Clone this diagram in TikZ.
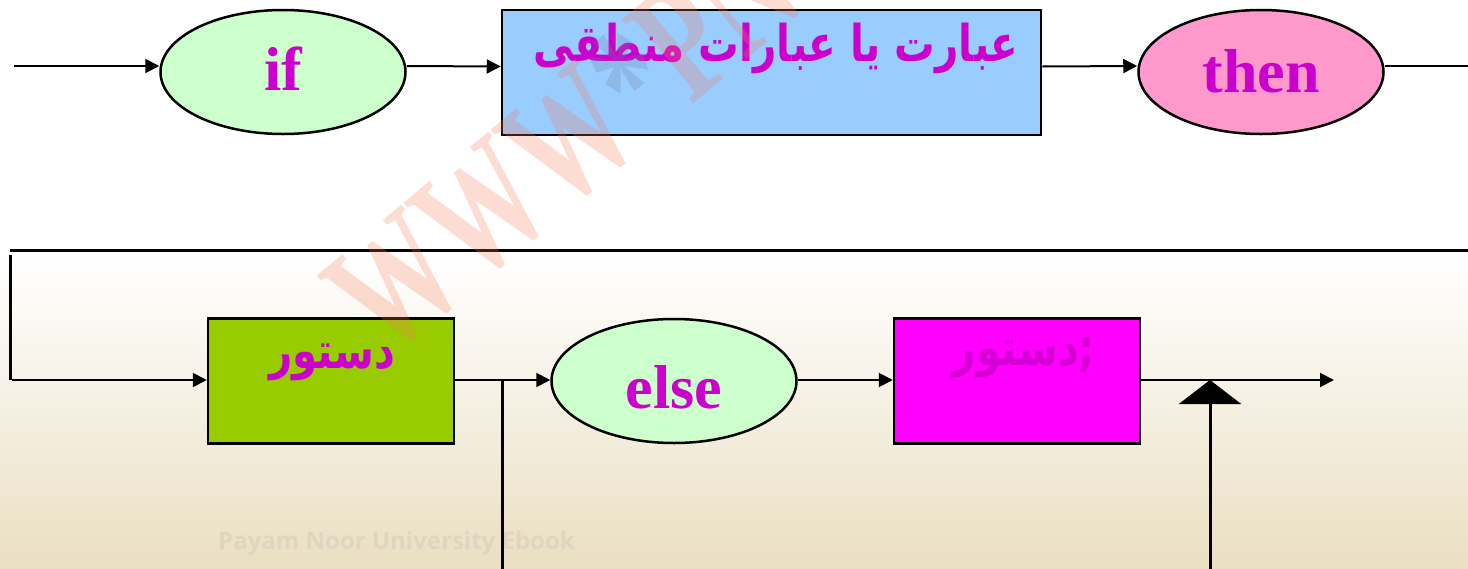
\documentclass[tikz,border=0pt]{standalone}
\usepackage{fontspec}
\usepackage{graphicx}
\setmainfont{Liberation Serif}
\setsansfont{Open Sans}
\newfontfamily\arabicfont[Script=Arabic]{DejaVu Sans}
\TeXXeTstate=1
\usetikzlibrary{shapes.geometric,arrows.meta}
\definecolor{txtmag}{RGB}{204,0,204}
\definecolor{lgreen}{RGB}{204,255,204}
\definecolor{lblue}{RGB}{153,204,255}
\definecolor{lpink}{RGB}{255,153,204}
\definecolor{ygreen}{RGB}{153,204,0}
\definecolor{fmag}{RGB}{255,0,255}
\definecolor{beige}{RGB}{234,223,194}
\definecolor{wmark}{RGB}{248,120,80}
\definecolor{wstar}{RGB}{110,130,160}
\newcommand{\artext}[1]{\scalebox{1}[1.25]{\beginR #1\endR}}
\begin{document}
\begin{tikzpicture}[x=1pt,y=-1pt,
  boxnode/.style={draw=black,line width=2.5pt,inner sep=0pt,minimum width=#1,minimum height=125pt},
  ovalnode/.style={ellipse,draw=black,line width=2.5pt,inner sep=0pt,minimum width=245pt,minimum height=124pt},
  conn/.style={line width=2pt,-{Triangle[length=14pt,width=14pt]}},
  plain/.style={line width=2pt},
  heavy/.style={line width=3pt},
  lbl/.style={text=txtmag,font=\fontsize{62}{62}\selectfont\bfseries,inner sep=0pt,anchor=base},
  albl/.style={text=txtmag,font=\arabicfont\fontsize{40.5}{40.5}\selectfont\bfseries,inner sep=0pt,anchor=base}]
\useasboundingbox (0,0) rectangle (1468,568);
% background
\fill[white] (0,0) rectangle (1468,568);
\shade[top color=white,bottom color=beige] (0,255) rectangle (1468,568);
\node[font=\sffamily\bfseries\fontsize{24}{24}\selectfont,text={rgb,255:red,222;green,214;blue,192},anchor=base west,inner sep=0pt] (pnu) at (218,549) {Payam Noor University Ebook};

% top row
\node[ovalnode,fill=lgreen] (if) at (283,72) {};
\node[boxnode=539pt,fill=lblue] (r1) at (771.5,72.5) {};
\node[ovalnode,fill=lpink] (then) at (1261,72) {};
\node[lbl] (ifT) at (283,90) {if};
\node[albl] (r1T) at (776,61) {\artext{عبارت یا عبارات منطقی}};
\node[lbl] (thenT) at (1261,92) {then};
\coordinate (s0) at (14,66);
\coordinate (e0) at (1468,66);
\draw[conn] (s0) -- ([yshift=6pt]if.west);
\draw[conn] ([yshift=6pt]if.east) -- ([yshift=6pt]r1.west);
\draw[conn] ([yshift=6pt]r1.east) -- ([yshift=6pt]then.west);
\draw[plain] ([yshift=6pt]then.east) -- (e0);

% separator and bottom row
\coordinate (h1) at (10,250);
\coordinate (h2) at (1468,250);
\coordinate (v1) at (10,255);
\coordinate (v2) at (10,380);
\draw[heavy] (h1) -- (h2);
\draw[heavy] (v1) -- (v2);

\node[boxnode=246pt,fill=ygreen] (r2) at (331,381) {};
\node[ovalnode,fill=lgreen] (else) at (674,381) {};
\node[boxnode=246pt,fill=fmag] (r3) at (1017,381) {};
\node[albl] (r2T) at (332,368) {\artext{دستور}};
\node[lbl] (elseT) at (674,408) {else};
\node[albl,text={rgb,255:red,212;green,0;blue,212}] (r3T) at (1024,365) {\artext{;دستور}};

\coordinate (v2b) at (12,380);
\draw[conn] (v2b) -- ([yshift=1pt]r2.west);
\draw[conn] ([yshift=1pt]r2.east) -- ([yshift=1pt]else.west);
\draw[conn] ([yshift=1pt]else.east) -- ([yshift=1pt]r3.west);
\coordinate (fin) at (1334,380);
\draw[conn] ([yshift=1pt]r3.east) -- (fin);
\coordinate (j1) at (502,380);
\coordinate (j2) at (502,570);
\draw[heavy] (j1) -- (j2);
\coordinate (u0) at (1210,570);
\coordinate (u1) at (1210,380);
\draw[heavy,-{Triangle[length=24pt,width=62pt]}] (u0) -- (u1);

% watermark
\node[rotate=40,font=\fontsize{120}{120}\selectfont\bfseries,inner sep=0pt,anchor=base west,opacity=0.25,text=wmark] (wm) at (386,362) {\scalebox{0.95}[1.4]{WWW\textcolor{wstar}{*}PN}};
\end{tikzpicture}
\end{document}
